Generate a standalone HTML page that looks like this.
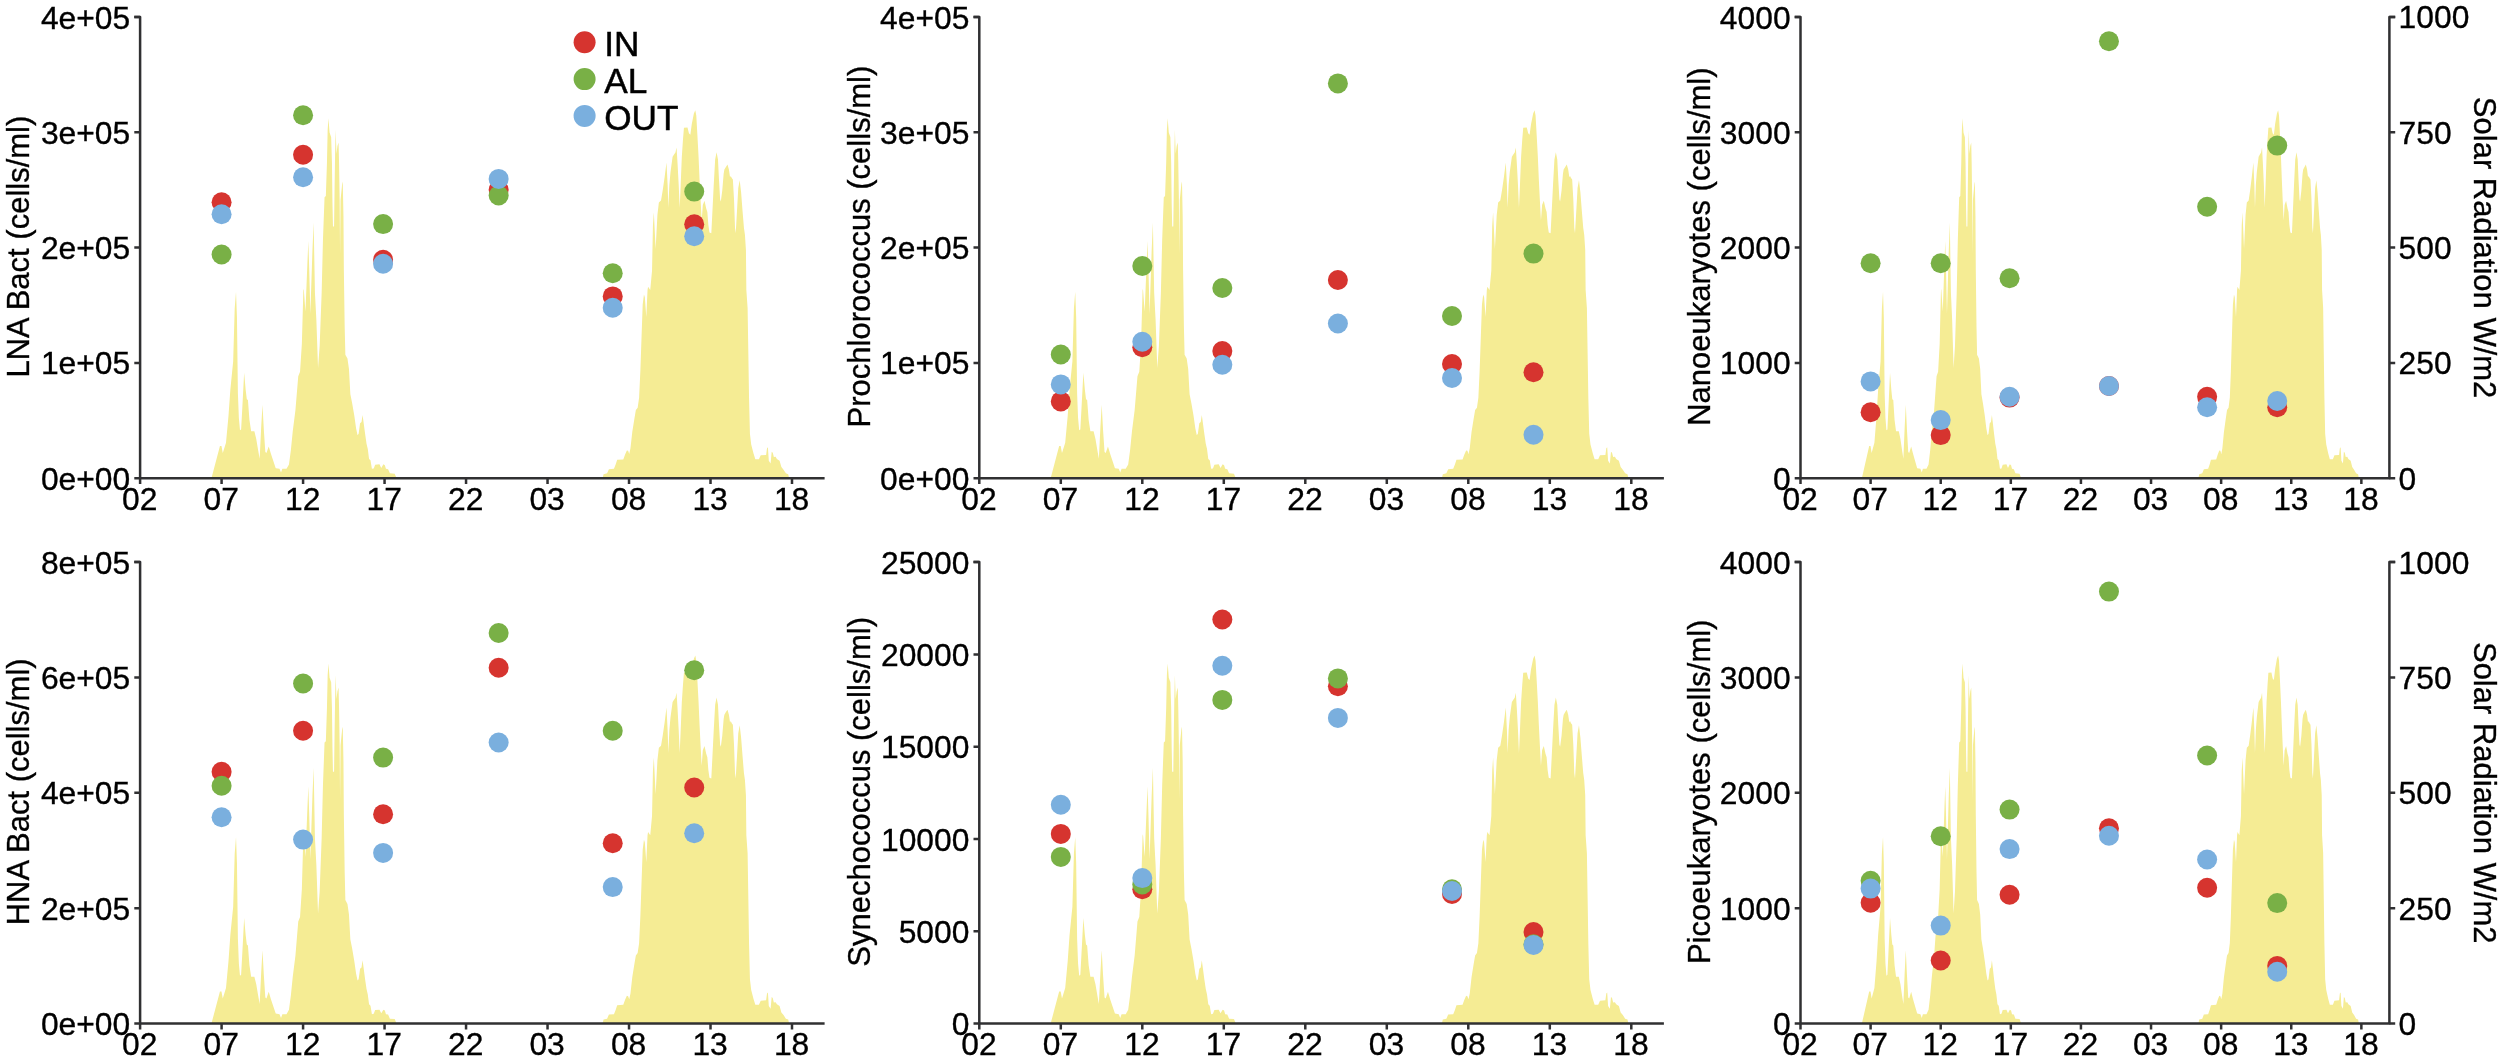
<!DOCTYPE html>
<html lang="en"><head><meta charset="utf-8"><title>Diel cycle of microbial abundances and solar radiation</title>
<style>html,body{margin:0;padding:0;background:#fff}body{width:2500px;height:1058px;overflow:hidden}svg{display:block;filter:blur(.45px)}text{font-family:"Liberation Sans",sans-serif;fill:#000;stroke:#000;stroke-width:.35px}.tk{font-size:31.8px}.tt{font-size:31px}.lg{font-size:35.2px;stroke-width:.5px}</style></head><body>
<svg width="2500" height="1058" viewBox="0 0 2500 1058">
<rect width="2500" height="1058" fill="#fff"/>
<g>
<polygon fill="#f5ec94" points="211.44,478.2 219.95,446.07 221.46,446.07 222.78,453.06 226,442.66 228.46,416.19 230.35,389.72 233.18,361.36 234.7,308.42 236.02,291.78 236.96,317.87 237.91,393.5 238.86,418.08 239.99,430.37 241.12,429.43 242.26,408.63 244.15,372.7 245.66,389.72 246.8,399.18 247.93,400.12 249.44,419.97 251.15,431.32 254.36,431.32 256.25,438.88 258.14,450.23 259.66,458.73 261.17,427.54 262.49,404.85 263.82,429.43 265.33,452.12 266.46,453.06 268.73,446.44 271,454.01 275.73,468.19 279.51,468.76 281.02,472.54 282.35,468.76 286.51,468.76 288.96,464.41 290.86,450.23 292.75,431.32 295.45,410.09 298.25,376.28 300.05,371.78 301.85,343.97 303.35,290.36 303.75,289.06 305.45,311.56 307.45,262.05 308.35,241.05 309.25,270.05 310.35,314.06 312.45,250.05 313.65,222.54 314.95,293.06 316.35,319.47 318.05,368.08 319.65,346.07 321.65,293.06 322.95,240.05 324.55,197.34 325.85,196.04 326.95,163.03 327.65,130.02 328.46,118.32 329.56,132.53 331.16,137.13 331.96,163.03 332.46,202.64 332.96,226.45 334.06,226.45 334.56,189.44 335.16,149.73 335.66,129.82 336.46,153.73 337.46,146.03 338.56,142.43 339.06,163.03 339.66,200.04 340.06,254.05 340.56,200.04 342.16,184.04 342.76,181.54 343.46,216.04 343.86,270.05 344.66,325.97 345.36,354.77 347.46,358.57 348.96,369.08 350.36,394.25 352.16,403.23 354.32,415.8 356.11,428.38 357.55,435.21 358.63,433.77 360.07,423.35 361.5,422.09 362.58,414.91 363.66,422.99 365.1,433.77 366.53,443.65 367.79,449.04 369.05,458.92 370.49,460.35 371.92,468.8 373.72,468.44 375.16,464.67 379.47,464.31 381.26,467.9 383.42,464.31 384.86,465.2 385.94,468.8 388.09,469.16 389.89,473.29 394.74,473.65 396.53,478.2"/>
<polygon fill="#f5ec94" points="602.63,478.2 603.53,474.19 607.12,473.29 608.92,469.16 613.95,468.8 615.74,464.31 617.18,459.82 623.29,459.46 625.09,454.43 626.88,450.47 628.14,450.83 629.22,453.89 630.47,448.14 632.27,431.97 634.43,418.5 635.86,410.06 637.66,407.72 639.1,397.84 640.36,370.9 641.61,334.97 642.69,304.43 643.95,294.55 644.85,297.24 646.28,317 647.54,290.06 648.08,286.84 650.24,290.07 652.03,270.67 652.93,225.76 653.83,212.29 655.63,249.12 657.42,214.99 658.86,202.41 661.02,200.61 662.81,189.84 664.61,177.26 666.5,162.42 667.64,185.11 668.35,207.8 669.34,185.11 670.48,172.34 672.6,156.74 674.02,154.62 675.44,152.49 676.57,147.53 677.57,163.83 678.7,185.11 679.69,207.8 680.69,185.11 681.82,156.74 682.96,139.73 683.95,127.67 687.5,127.39 688.91,133.34 690.33,134.76 691.75,124.13 693.88,113.49 695.3,110.23 696.29,115.62 697.42,135.47 698.56,156.74 699.55,179.43 700.54,199.29 701.68,220.56 702.81,204.96 704.51,200.71 706.22,208.51 707.35,212.05 708.34,224.81 709.48,232.61 711.32,233.32 712.31,213.47 713.73,185.11 715.15,159.58 716.57,152.21 717.99,159.58 718.98,179.43 720.11,199.29 720.82,201.42 722.24,190.78 723.66,173.76 724.37,169.51 726.07,166.67 727.49,164.54 728.91,169.51 730.04,177.31 730.75,175.89 731.74,178.02 732.88,179.43 734.01,199.29 735.01,227.65 735.72,233.32 736.85,213.47 738.27,187.94 739.69,180.14 741.1,192.2 742.52,210.63 743.94,227.65 744.93,234.74 745.93,250.06 746.35,290.06 747.61,308.02 748.33,352.93 749.04,397.84 749.94,433.77 751.2,444.55 753.54,453.53 755.33,459.28 758.92,459.28 760.72,455.32 766.11,454.97 767.01,448.14 767.91,447.24 768.81,460.71 770.6,463.41 771.68,451.73 772.76,452.63 773.84,457.12 775.63,456.76 776.89,458.92 779.58,460.71 781.38,467 783.54,469.7 785.87,473.29 788.21,474.19 789.11,478.2"/>
<circle cx="221.59" cy="202.3" r="10" fill="#d6342f"/>
<circle cx="221.59" cy="254.5" r="10" fill="#79b046"/>
<circle cx="221.59" cy="214.3" r="10" fill="#7aafde"/>
<circle cx="303.08" cy="154.7" r="10" fill="#d6342f"/>
<circle cx="303.08" cy="115.2" r="10" fill="#79b046"/>
<circle cx="303.08" cy="177.3" r="10" fill="#7aafde"/>
<circle cx="383.1" cy="259.7" r="10" fill="#d6342f"/>
<circle cx="383.1" cy="224.1" r="10" fill="#79b046"/>
<circle cx="383.1" cy="263.8" r="10" fill="#7aafde"/>
<circle cx="498.65" cy="189.8" r="10" fill="#d6342f"/>
<circle cx="498.65" cy="195.5" r="10" fill="#79b046"/>
<circle cx="498.65" cy="178.9" r="10" fill="#7aafde"/>
<circle cx="612.73" cy="296.4" r="10" fill="#d6342f"/>
<circle cx="612.73" cy="273.3" r="10" fill="#79b046"/>
<circle cx="612.73" cy="307.8" r="10" fill="#7aafde"/>
<circle cx="694.22" cy="224.3" r="10" fill="#d6342f"/>
<circle cx="694.22" cy="191.6" r="10" fill="#79b046"/>
<circle cx="694.22" cy="236.3" r="10" fill="#7aafde"/>
<path d="M134.3 17H140.1V478.2H824.6" fill="none" stroke="#303032" stroke-width="2.5" stroke-linejoin="round"/>
<text class="tk" x="130.2" y="489.7" text-anchor="end">0e+00</text>
<text class="tk" x="130.2" y="374.4" text-anchor="end">1e+05</text>
<text class="tk" x="130.2" y="259.1" text-anchor="end">2e+05</text>
<text class="tk" x="130.2" y="143.8" text-anchor="end">3e+05</text>
<text class="tk" x="130.2" y="28.5" text-anchor="end">4e+05</text>
<text class="tk" x="139.7" y="509.7" text-anchor="middle">02</text>
<text class="tk" x="221.19" y="509.7" text-anchor="middle">07</text>
<text class="tk" x="302.68" y="509.7" text-anchor="middle">12</text>
<text class="tk" x="384.16" y="509.7" text-anchor="middle">17</text>
<text class="tk" x="465.65" y="509.7" text-anchor="middle">22</text>
<text class="tk" x="547.14" y="509.7" text-anchor="middle">03</text>
<text class="tk" x="628.63" y="509.7" text-anchor="middle">08</text>
<text class="tk" x="710.12" y="509.7" text-anchor="middle">13</text>
<text class="tk" x="791.6" y="509.7" text-anchor="middle">18</text>
<path d="M140.1 478.2h-5.8M140.1 362.9h-5.8M140.1 247.6h-5.8M140.1 132.3h-5.8M140.1 17h-5.8M140.1 478.2v5.8M221.59 478.2v5.8M303.08 478.2v5.8M384.56 478.2v5.8M466.05 478.2v5.8M547.54 478.2v5.8M629.03 478.2v5.8M710.52 478.2v5.8M792 478.2v5.8" fill="none" stroke="#303032" stroke-width="2.5"/>
<text class="tt" text-anchor="middle" transform="translate(29.1 246.6) rotate(-90)">LNA Bact (cells/ml)</text>
</g>
<g>
<polygon fill="#f5ec94" points="1050.65,478.2 1059.16,446.07 1060.67,446.07 1061.99,453.06 1065.21,442.66 1067.67,416.19 1069.56,389.72 1072.4,361.36 1073.91,308.42 1075.23,291.78 1076.18,317.87 1077.12,393.5 1078.07,418.08 1079.2,430.37 1080.34,429.43 1081.47,408.63 1083.37,372.7 1084.88,389.72 1086.01,399.18 1087.15,400.12 1088.66,419.97 1090.36,431.32 1093.58,431.32 1095.47,438.88 1097.36,450.23 1098.87,458.73 1100.39,427.54 1101.71,404.85 1103.03,429.43 1104.55,452.12 1105.68,453.06 1107.95,446.44 1110.22,454.01 1114.95,468.19 1118.73,468.76 1120.24,472.54 1121.57,468.76 1125.73,468.76 1128.19,464.41 1130.08,450.23 1131.97,431.32 1134.67,410.09 1137.47,376.28 1139.27,371.78 1141.07,343.97 1142.57,290.36 1142.97,289.06 1144.67,311.56 1146.67,262.05 1147.57,241.05 1148.47,270.05 1149.57,314.06 1151.68,250.05 1152.88,222.54 1154.18,293.06 1155.58,319.47 1157.28,368.08 1158.88,346.07 1160.88,293.06 1162.18,240.05 1163.78,197.34 1165.08,196.04 1166.18,163.03 1166.88,130.02 1167.68,118.32 1168.78,132.53 1170.38,137.13 1171.18,163.03 1171.68,202.64 1172.18,226.45 1173.29,226.45 1173.79,189.44 1174.39,149.73 1174.89,129.82 1175.69,153.73 1176.69,146.03 1177.79,142.43 1178.29,163.03 1178.89,200.04 1179.29,254.05 1179.79,200.04 1181.39,184.04 1181.99,181.54 1182.69,216.04 1183.09,270.05 1183.89,325.97 1184.59,354.77 1186.69,358.57 1188.19,369.08 1189.6,394.25 1191.39,403.23 1193.55,415.8 1195.34,428.38 1196.78,435.21 1197.86,433.77 1199.3,423.35 1200.73,422.09 1201.81,414.91 1202.89,422.99 1204.33,433.77 1205.77,443.65 1207.02,449.04 1208.28,458.92 1209.72,460.35 1211.16,468.8 1212.95,468.44 1214.39,464.67 1218.7,464.31 1220.5,467.9 1222.66,464.31 1224.09,465.2 1225.17,468.8 1227.33,469.16 1229.12,473.29 1233.98,473.65 1235.77,478.2"/>
<polygon fill="#f5ec94" points="1441.9,478.2 1442.8,474.19 1446.39,473.29 1448.19,469.16 1453.22,468.8 1455.01,464.31 1456.45,459.82 1462.56,459.46 1464.36,454.43 1466.15,450.47 1467.41,450.83 1468.49,453.89 1469.75,448.14 1471.54,431.97 1473.7,418.5 1475.14,410.06 1476.93,407.72 1478.37,397.84 1479.63,370.9 1480.89,334.97 1481.96,304.43 1483.22,294.55 1484.12,297.24 1485.56,317 1486.82,290.06 1487.35,286.84 1489.51,290.07 1491.31,270.67 1492.21,225.76 1493.1,212.29 1494.9,249.12 1496.7,214.99 1498.14,202.41 1500.29,200.61 1502.09,189.84 1503.89,177.26 1505.78,162.42 1506.92,185.11 1507.63,207.8 1508.62,185.11 1509.75,172.34 1511.88,156.74 1513.3,154.62 1514.72,152.49 1515.85,147.53 1516.85,163.83 1517.98,185.11 1518.97,207.8 1519.97,185.11 1521.1,156.74 1522.24,139.73 1523.23,127.67 1526.78,127.39 1528.19,133.34 1529.61,134.76 1531.03,124.13 1533.16,113.49 1534.58,110.23 1535.57,115.62 1536.7,135.47 1537.84,156.74 1538.83,179.43 1539.82,199.29 1540.96,220.56 1542.09,204.96 1543.8,200.71 1545.5,208.51 1546.63,212.05 1547.63,224.81 1548.76,232.61 1550.61,233.32 1551.6,213.47 1553.02,185.11 1554.43,159.58 1555.85,152.21 1557.27,159.58 1558.26,179.43 1559.4,199.29 1560.11,201.42 1561.53,190.78 1562.95,173.76 1563.65,169.51 1565.36,166.67 1566.78,164.54 1568.19,169.51 1569.33,177.31 1570.04,175.89 1571.03,178.02 1572.17,179.43 1573.3,199.29 1574.29,227.65 1575,233.32 1576.14,213.47 1577.56,187.94 1578.97,180.14 1580.39,192.2 1581.81,210.63 1583.23,227.65 1584.22,234.74 1585.22,250.06 1585.64,290.06 1586.9,308.02 1587.61,352.93 1588.33,397.84 1589.23,433.77 1590.49,444.55 1592.82,453.53 1594.62,459.28 1598.22,459.28 1600.01,455.32 1605.4,454.97 1606.3,448.14 1607.2,447.24 1608.1,460.71 1609.89,463.41 1610.97,451.73 1612.05,452.63 1613.13,457.12 1614.93,456.76 1616.18,458.92 1618.88,460.71 1620.67,467 1622.83,469.7 1625.17,473.29 1627.5,474.19 1628.4,478.2"/>
<circle cx="1060.8" cy="401.4" r="10" fill="#d6342f"/>
<circle cx="1060.8" cy="354.5" r="10" fill="#79b046"/>
<circle cx="1060.8" cy="384.4" r="10" fill="#7aafde"/>
<circle cx="1142.3" cy="347.3" r="10" fill="#d6342f"/>
<circle cx="1142.3" cy="266" r="10" fill="#79b046"/>
<circle cx="1142.3" cy="341.7" r="10" fill="#7aafde"/>
<circle cx="1222.33" cy="351.1" r="10" fill="#d6342f"/>
<circle cx="1222.33" cy="288" r="10" fill="#79b046"/>
<circle cx="1222.33" cy="364.7" r="10" fill="#7aafde"/>
<circle cx="1337.9" cy="280" r="10" fill="#d6342f"/>
<circle cx="1337.9" cy="83.4" r="10" fill="#79b046"/>
<circle cx="1337.9" cy="323.5" r="10" fill="#7aafde"/>
<circle cx="1452" cy="364" r="10" fill="#d6342f"/>
<circle cx="1452" cy="316" r="10" fill="#79b046"/>
<circle cx="1452" cy="378" r="10" fill="#7aafde"/>
<circle cx="1533.5" cy="372.3" r="10" fill="#d6342f"/>
<circle cx="1533.5" cy="253.6" r="10" fill="#79b046"/>
<circle cx="1533.5" cy="434.7" r="10" fill="#7aafde"/>
<path d="M973.5 17H979.3V478.2H1663.9" fill="none" stroke="#303032" stroke-width="2.5" stroke-linejoin="round"/>
<text class="tk" x="969.4" y="489.7" text-anchor="end">0e+00</text>
<text class="tk" x="969.4" y="374.4" text-anchor="end">1e+05</text>
<text class="tk" x="969.4" y="259.1" text-anchor="end">2e+05</text>
<text class="tk" x="969.4" y="143.8" text-anchor="end">3e+05</text>
<text class="tk" x="969.4" y="28.5" text-anchor="end">4e+05</text>
<text class="tk" x="978.9" y="509.7" text-anchor="middle">02</text>
<text class="tk" x="1060.4" y="509.7" text-anchor="middle">07</text>
<text class="tk" x="1141.9" y="509.7" text-anchor="middle">12</text>
<text class="tk" x="1223.4" y="509.7" text-anchor="middle">17</text>
<text class="tk" x="1304.9" y="509.7" text-anchor="middle">22</text>
<text class="tk" x="1386.4" y="509.7" text-anchor="middle">03</text>
<text class="tk" x="1467.9" y="509.7" text-anchor="middle">08</text>
<text class="tk" x="1549.4" y="509.7" text-anchor="middle">13</text>
<text class="tk" x="1630.9" y="509.7" text-anchor="middle">18</text>
<path d="M979.3 478.2h-5.8M979.3 362.9h-5.8M979.3 247.6h-5.8M979.3 132.3h-5.8M979.3 17h-5.8M979.3 478.2v5.8M1060.8 478.2v5.8M1142.3 478.2v5.8M1223.8 478.2v5.8M1305.3 478.2v5.8M1386.8 478.2v5.8M1468.3 478.2v5.8M1549.8 478.2v5.8M1631.3 478.2v5.8" fill="none" stroke="#303032" stroke-width="2.5"/>
<text class="tt" text-anchor="middle" transform="translate(869.5 246.6) rotate(-90)">Prochlorococcus (cells/ml)</text>
</g>
<g>
<polygon fill="#f5ec94" points="1861.87,478.2 1869.19,446.07 1870.5,446.07 1871.63,453.06 1874.4,442.66 1876.52,416.19 1878.14,389.72 1880.58,361.36 1881.88,308.42 1883.02,291.78 1883.84,317.87 1884.65,393.5 1885.46,418.08 1886.44,430.37 1887.41,429.43 1888.39,408.63 1890.02,372.7 1891.32,389.72 1892.3,399.18 1893.27,400.12 1894.57,419.97 1896.04,431.32 1898.8,431.32 1900.43,438.88 1902.06,450.23 1903.36,458.73 1904.66,427.54 1905.8,404.85 1906.94,429.43 1908.24,452.12 1909.21,453.06 1911.17,446.44 1913.12,454.01 1917.19,468.19 1920.44,468.76 1921.74,472.54 1922.88,468.76 1926.46,468.76 1928.57,464.41 1930.2,450.23 1931.83,431.32 1934.15,410.09 1936.56,376.28 1938.11,371.78 1939.66,343.97 1940.95,290.36 1941.29,289.06 1942.76,311.56 1944.48,262.05 1945.25,241.05 1946.03,270.05 1946.97,314.06 1948.78,250.05 1949.81,222.54 1950.93,293.06 1952.14,319.47 1953.6,368.08 1954.98,346.07 1956.7,293.06 1957.82,240.05 1959.19,197.34 1960.31,196.04 1961.26,163.03 1961.86,130.02 1962.55,118.32 1963.5,132.53 1964.87,137.13 1965.56,163.03 1965.99,202.64 1966.42,226.45 1967.37,226.45 1967.8,189.44 1968.31,149.73 1968.74,129.82 1969.43,153.73 1970.29,146.03 1971.24,142.43 1971.67,163.03 1972.19,200.04 1972.53,254.05 1972.96,200.04 1974.34,184.04 1974.86,181.54 1975.46,216.04 1975.8,270.05 1976.49,325.97 1977.09,354.77 1978.9,358.57 1980.19,369.08 1981.4,394.25 1982.94,403.23 1984.8,415.8 1986.34,428.38 1987.58,435.21 1988.51,433.77 1989.74,423.35 1990.98,422.09 1991.91,414.91 1992.84,422.99 1994.07,433.77 1995.31,443.65 1996.39,449.04 1997.47,458.92 1998.71,460.35 1999.95,468.8 2001.49,468.44 2002.73,464.67 2006.44,464.31 2007.98,467.9 2009.84,464.31 2011.07,465.2 2012,468.8 2013.86,469.16 2015.4,473.29 2019.57,473.65 2021.12,478.2"/>
<polygon fill="#f5ec94" points="2198.43,478.2 2199.2,474.19 2202.29,473.29 2203.84,469.16 2208.17,468.8 2209.71,464.31 2210.95,459.82 2216.2,459.46 2217.75,454.43 2219.3,450.47 2220.38,450.83 2221.31,453.89 2222.39,448.14 2223.93,431.97 2225.79,418.5 2227.02,410.06 2228.57,407.72 2229.81,397.84 2230.89,370.9 2231.97,334.97 2232.9,304.43 2233.98,294.55 2234.75,297.24 2235.99,317 2237.07,290.06 2237.53,286.84 2239.39,290.07 2240.93,270.67 2241.71,225.76 2242.48,212.29 2244.03,249.12 2245.57,214.99 2246.81,202.41 2248.66,200.61 2250.21,189.84 2251.75,177.26 2253.39,162.42 2254.36,185.11 2254.97,207.8 2255.83,185.11 2256.8,172.34 2258.63,156.74 2259.85,154.62 2261.07,152.49 2262.05,147.53 2262.9,163.83 2263.88,185.11 2264.73,207.8 2265.59,185.11 2266.56,156.74 2267.54,139.73 2268.39,127.67 2271.44,127.39 2272.66,133.34 2273.88,134.76 2275.1,124.13 2276.93,113.49 2278.15,110.23 2279.01,115.62 2279.98,135.47 2280.96,156.74 2281.82,179.43 2282.67,199.29 2283.65,220.56 2284.62,204.96 2286.09,200.71 2287.55,208.51 2288.53,212.05 2289.38,224.81 2290.36,232.61 2291.94,233.32 2292.8,213.47 2294.02,185.11 2295.24,159.58 2296.46,152.21 2297.68,159.58 2298.53,179.43 2299.51,199.29 2300.12,201.42 2301.34,190.78 2302.56,173.76 2303.17,169.51 2304.63,166.67 2305.85,164.54 2307.07,169.51 2308.05,177.31 2308.66,175.89 2309.51,178.02 2310.49,179.43 2311.47,199.29 2312.32,227.65 2312.93,233.32 2313.91,213.47 2315.13,187.94 2316.35,180.14 2317.57,192.2 2318.79,210.63 2320.01,227.65 2320.86,234.74 2321.71,250.06 2322.08,290.06 2323.16,308.02 2323.78,352.93 2324.4,397.84 2325.17,433.77 2326.25,444.55 2328.26,453.53 2329.81,459.28 2332.9,459.28 2334.44,455.32 2339.08,454.97 2339.85,448.14 2340.63,447.24 2341.4,460.71 2342.94,463.41 2343.87,451.73 2344.8,452.63 2345.73,457.12 2347.27,456.76 2348.35,458.92 2350.67,460.71 2352.22,467 2354.07,469.7 2356.08,473.29 2358.09,474.19 2358.86,478.2"/>
<circle cx="1870.61" cy="412.2" r="10" fill="#d6342f"/>
<circle cx="1870.61" cy="263.3" r="10" fill="#79b046"/>
<circle cx="1870.61" cy="381.4" r="10" fill="#7aafde"/>
<circle cx="1940.71" cy="435.1" r="10" fill="#d6342f"/>
<circle cx="1940.71" cy="263.3" r="10" fill="#79b046"/>
<circle cx="1940.71" cy="420.1" r="10" fill="#7aafde"/>
<circle cx="2009.56" cy="397.6" r="10" fill="#d6342f"/>
<circle cx="2009.56" cy="278.3" r="10" fill="#79b046"/>
<circle cx="2009.56" cy="396.8" r="10" fill="#7aafde"/>
<circle cx="2108.97" cy="386" r="10" fill="#d6342f"/>
<circle cx="2108.97" cy="41.2" r="10" fill="#79b046"/>
<circle cx="2108.97" cy="386" r="10" fill="#7aafde"/>
<circle cx="2207.12" cy="396.8" r="10" fill="#d6342f"/>
<circle cx="2207.12" cy="206.7" r="10" fill="#79b046"/>
<circle cx="2207.12" cy="407.2" r="10" fill="#7aafde"/>
<circle cx="2277.23" cy="407.2" r="10" fill="#d6342f"/>
<circle cx="2277.23" cy="145.6" r="10" fill="#79b046"/>
<circle cx="2277.23" cy="401" r="10" fill="#7aafde"/>
<path d="M1794.7 17H1800.5V478.2H2389.4V17H2395.2" fill="none" stroke="#303032" stroke-width="2.5" stroke-linejoin="round"/>
<text class="tk" x="1790.6" y="489.7" text-anchor="end">0</text>
<text class="tk" x="1790.6" y="374.4" text-anchor="end">1000</text>
<text class="tk" x="1790.6" y="259.1" text-anchor="end">2000</text>
<text class="tk" x="1790.6" y="143.8" text-anchor="end">3000</text>
<text class="tk" x="1790.6" y="28.5" text-anchor="end">4000</text>
<text class="tk" x="1800.1" y="509.7" text-anchor="middle">02</text>
<text class="tk" x="1870.21" y="509.7" text-anchor="middle">07</text>
<text class="tk" x="1940.31" y="509.7" text-anchor="middle">12</text>
<text class="tk" x="2010.42" y="509.7" text-anchor="middle">17</text>
<text class="tk" x="2080.53" y="509.7" text-anchor="middle">22</text>
<text class="tk" x="2150.64" y="509.7" text-anchor="middle">03</text>
<text class="tk" x="2220.74" y="509.7" text-anchor="middle">08</text>
<text class="tk" x="2290.85" y="509.7" text-anchor="middle">13</text>
<text class="tk" x="2360.96" y="509.7" text-anchor="middle">18</text>
<text class="tk" x="2398.6" y="489.6">0</text>
<text class="tk" x="2398.6" y="374.3">250</text>
<text class="tk" x="2398.6" y="259">500</text>
<text class="tk" x="2398.6" y="143.7">750</text>
<text class="tk" x="2398.6" y="28.4">1000</text>
<path d="M1800.5 478.2h-5.8M1800.5 362.9h-5.8M1800.5 247.6h-5.8M1800.5 132.3h-5.8M1800.5 17h-5.8M1800.5 478.2v5.8M1870.61 478.2v5.8M1940.71 478.2v5.8M2010.82 478.2v5.8M2080.93 478.2v5.8M2151.04 478.2v5.8M2221.14 478.2v5.8M2291.25 478.2v5.8M2361.36 478.2v5.8M2389.4 478.2h5.8M2389.4 362.9h5.8M2389.4 247.6h5.8M2389.4 132.3h5.8M2389.4 17h5.8" fill="none" stroke="#303032" stroke-width="2.5"/>
<text class="tt" text-anchor="middle" transform="translate(1709.5 246.6) rotate(-90)">Nanoeukaryotes (cells/ml)</text>
<text class="tt" text-anchor="middle" transform="translate(2474.2 247.6) rotate(90)">Solar Radiation W/m2</text>
</g>
<g>
<polygon fill="#f5ec94" points="211.44,1023.6 219.95,991.45 221.46,991.45 222.78,998.45 226,988.04 228.46,961.55 230.35,935.06 233.18,906.68 234.7,853.71 236.02,837.06 236.96,863.17 237.91,938.85 238.86,963.44 239.99,975.74 241.12,974.8 242.26,953.98 244.15,918.04 245.66,935.06 246.8,944.52 247.93,945.47 249.44,965.34 251.15,976.69 254.36,976.69 256.25,984.26 258.14,995.61 259.66,1004.12 261.17,972.9 262.49,950.2 263.82,974.8 265.33,997.5 266.46,998.45 268.73,991.82 271,999.39 275.73,1013.58 279.51,1014.15 281.02,1017.93 282.35,1014.15 286.51,1014.15 288.96,1009.8 290.86,995.61 292.75,976.69 295.45,955.44 298.25,921.61 300.05,917.11 301.85,889.28 303.35,835.64 303.75,834.34 305.45,856.86 307.45,807.31 308.35,786.29 309.25,815.32 310.35,859.36 312.45,795.3 313.65,767.78 314.95,838.34 316.35,864.76 318.05,913.4 319.65,891.39 321.65,838.34 322.95,785.29 324.55,742.56 325.85,741.26 326.95,708.23 327.65,675.2 328.46,663.49 329.56,677.7 331.16,682.3 331.96,708.23 332.46,747.86 332.96,771.68 334.06,771.68 334.56,734.65 335.16,694.92 335.66,675 336.46,698.92 337.46,691.21 338.56,687.61 339.06,708.23 339.66,745.26 340.06,799.31 340.56,745.26 342.16,729.24 342.76,726.74 343.46,761.27 343.86,815.32 344.66,871.27 345.36,900.09 347.46,903.9 348.96,914.41 350.36,939.59 352.16,948.58 354.32,961.16 356.11,973.75 357.55,980.58 358.63,979.14 360.07,968.71 361.5,967.46 362.58,960.27 363.66,968.35 365.1,979.14 366.53,989.03 367.79,994.42 369.05,1004.31 370.49,1005.74 371.92,1014.19 373.72,1013.83 375.16,1010.06 379.47,1009.7 381.26,1013.29 383.42,1009.7 384.86,1010.6 385.94,1014.19 388.09,1014.55 389.89,1018.69 394.74,1019.04 396.53,1023.6"/>
<polygon fill="#f5ec94" points="602.63,1023.6 603.53,1019.58 607.12,1018.69 608.92,1014.55 613.95,1014.19 615.74,1009.7 617.18,1005.2 623.29,1004.84 625.09,999.81 626.88,995.86 628.14,996.22 629.22,999.27 630.47,993.52 632.27,977.34 634.43,963.86 635.86,955.41 637.66,953.08 639.1,943.19 640.36,916.23 641.61,880.28 642.69,849.72 643.95,839.83 644.85,842.53 646.28,862.3 647.54,835.34 648.08,832.12 650.24,835.35 652.03,815.94 652.93,771 653.83,757.52 655.63,794.37 657.42,760.21 658.86,747.63 661.02,745.83 662.81,735.05 664.61,722.47 666.5,707.61 667.64,730.32 668.35,753.02 669.34,730.32 670.48,717.54 672.6,701.93 674.02,699.81 675.44,697.68 676.57,692.71 677.57,709.03 678.7,730.32 679.69,753.02 680.69,730.32 681.82,701.93 682.96,684.91 683.95,672.84 687.5,672.56 688.91,678.52 690.33,679.94 691.75,669.3 693.88,658.65 695.3,655.39 696.29,660.78 697.42,680.65 698.56,701.93 699.55,724.64 700.54,744.51 701.68,765.79 702.81,750.18 704.51,745.93 706.22,753.73 707.35,757.28 708.34,770.05 709.48,777.85 711.32,778.56 712.31,758.7 713.73,730.32 715.15,704.77 716.57,697.39 717.99,704.77 718.98,724.64 720.11,744.51 720.82,746.64 722.24,735.99 723.66,718.96 724.37,714.71 726.07,711.87 727.49,709.74 728.91,714.71 730.04,722.51 730.75,721.09 731.74,723.22 732.88,724.64 734.01,744.51 735.01,772.89 735.72,778.56 736.85,758.7 738.27,733.15 739.69,725.35 741.1,737.41 742.52,755.86 743.94,772.89 744.93,779.98 745.93,795.31 746.35,835.34 747.61,853.31 748.33,898.25 749.04,943.19 749.94,979.14 751.2,989.92 753.54,998.91 755.33,1004.66 758.92,1004.66 760.72,1000.71 766.11,1000.35 767.01,993.52 767.91,992.62 768.81,1006.1 770.6,1008.8 771.68,997.11 772.76,998.01 773.84,1002.51 775.63,1002.15 776.89,1004.31 779.58,1006.1 781.38,1012.39 783.54,1015.09 785.87,1018.69 788.21,1019.58 789.11,1023.6"/>
<circle cx="221.59" cy="771.8" r="10" fill="#d6342f"/>
<circle cx="221.59" cy="785.7" r="10" fill="#79b046"/>
<circle cx="221.59" cy="817.2" r="10" fill="#7aafde"/>
<circle cx="303.08" cy="730.7" r="10" fill="#d6342f"/>
<circle cx="303.08" cy="683.5" r="10" fill="#79b046"/>
<circle cx="303.08" cy="839.6" r="10" fill="#7aafde"/>
<circle cx="383.1" cy="814.2" r="10" fill="#d6342f"/>
<circle cx="383.1" cy="757.6" r="10" fill="#79b046"/>
<circle cx="383.1" cy="852.9" r="10" fill="#7aafde"/>
<circle cx="498.65" cy="667.8" r="10" fill="#d6342f"/>
<circle cx="498.65" cy="633" r="10" fill="#79b046"/>
<circle cx="498.65" cy="742.5" r="10" fill="#7aafde"/>
<circle cx="612.73" cy="843.2" r="10" fill="#d6342f"/>
<circle cx="612.73" cy="730.7" r="10" fill="#79b046"/>
<circle cx="612.73" cy="887.1" r="10" fill="#7aafde"/>
<circle cx="694.22" cy="787.5" r="10" fill="#d6342f"/>
<circle cx="694.22" cy="670.2" r="10" fill="#79b046"/>
<circle cx="694.22" cy="833.2" r="10" fill="#7aafde"/>
<path d="M134.3 562.1H140.1V1023.6H824.6" fill="none" stroke="#303032" stroke-width="2.5" stroke-linejoin="round"/>
<text class="tk" x="130.2" y="1035.1" text-anchor="end">0e+00</text>
<text class="tk" x="130.2" y="919.73" text-anchor="end">2e+05</text>
<text class="tk" x="130.2" y="804.35" text-anchor="end">4e+05</text>
<text class="tk" x="130.2" y="688.98" text-anchor="end">6e+05</text>
<text class="tk" x="130.2" y="573.6" text-anchor="end">8e+05</text>
<text class="tk" x="139.7" y="1055.1" text-anchor="middle">02</text>
<text class="tk" x="221.19" y="1055.1" text-anchor="middle">07</text>
<text class="tk" x="302.68" y="1055.1" text-anchor="middle">12</text>
<text class="tk" x="384.16" y="1055.1" text-anchor="middle">17</text>
<text class="tk" x="465.65" y="1055.1" text-anchor="middle">22</text>
<text class="tk" x="547.14" y="1055.1" text-anchor="middle">03</text>
<text class="tk" x="628.63" y="1055.1" text-anchor="middle">08</text>
<text class="tk" x="710.12" y="1055.1" text-anchor="middle">13</text>
<text class="tk" x="791.6" y="1055.1" text-anchor="middle">18</text>
<path d="M140.1 1023.6h-5.8M140.1 908.23h-5.8M140.1 792.85h-5.8M140.1 677.48h-5.8M140.1 562.1h-5.8M140.1 1023.6v5.8M221.59 1023.6v5.8M303.08 1023.6v5.8M384.56 1023.6v5.8M466.05 1023.6v5.8M547.54 1023.6v5.8M629.03 1023.6v5.8M710.52 1023.6v5.8M792 1023.6v5.8" fill="none" stroke="#303032" stroke-width="2.5"/>
<text class="tt" text-anchor="middle" transform="translate(29.1 791.85) rotate(-90)">HNA Bact (cells/ml)</text>
</g>
<g>
<polygon fill="#f5ec94" points="1050.65,1023.6 1059.16,991.45 1060.67,991.45 1061.99,998.45 1065.21,988.04 1067.67,961.55 1069.56,935.06 1072.4,906.68 1073.91,853.71 1075.23,837.06 1076.18,863.17 1077.12,938.85 1078.07,963.44 1079.2,975.74 1080.34,974.8 1081.47,953.98 1083.37,918.04 1084.88,935.06 1086.01,944.52 1087.15,945.47 1088.66,965.34 1090.36,976.69 1093.58,976.69 1095.47,984.26 1097.36,995.61 1098.87,1004.12 1100.39,972.9 1101.71,950.2 1103.03,974.8 1104.55,997.5 1105.68,998.45 1107.95,991.82 1110.22,999.39 1114.95,1013.58 1118.73,1014.15 1120.24,1017.93 1121.57,1014.15 1125.73,1014.15 1128.19,1009.8 1130.08,995.61 1131.97,976.69 1134.67,955.44 1137.47,921.61 1139.27,917.11 1141.07,889.28 1142.57,835.64 1142.97,834.34 1144.67,856.86 1146.67,807.31 1147.57,786.29 1148.47,815.32 1149.57,859.36 1151.68,795.3 1152.88,767.78 1154.18,838.34 1155.58,864.76 1157.28,913.4 1158.88,891.39 1160.88,838.34 1162.18,785.29 1163.78,742.56 1165.08,741.26 1166.18,708.23 1166.88,675.2 1167.68,663.49 1168.78,677.7 1170.38,682.3 1171.18,708.23 1171.68,747.86 1172.18,771.68 1173.29,771.68 1173.79,734.65 1174.39,694.92 1174.89,675 1175.69,698.92 1176.69,691.21 1177.79,687.61 1178.29,708.23 1178.89,745.26 1179.29,799.31 1179.79,745.26 1181.39,729.24 1181.99,726.74 1182.69,761.27 1183.09,815.32 1183.89,871.27 1184.59,900.09 1186.69,903.9 1188.19,914.41 1189.6,939.59 1191.39,948.58 1193.55,961.16 1195.34,973.75 1196.78,980.58 1197.86,979.14 1199.3,968.71 1200.73,967.46 1201.81,960.27 1202.89,968.35 1204.33,979.14 1205.77,989.03 1207.02,994.42 1208.28,1004.31 1209.72,1005.74 1211.16,1014.19 1212.95,1013.83 1214.39,1010.06 1218.7,1009.7 1220.5,1013.29 1222.66,1009.7 1224.09,1010.6 1225.17,1014.19 1227.33,1014.55 1229.12,1018.69 1233.98,1019.04 1235.77,1023.6"/>
<polygon fill="#f5ec94" points="1441.9,1023.6 1442.8,1019.58 1446.39,1018.69 1448.19,1014.55 1453.22,1014.19 1455.01,1009.7 1456.45,1005.2 1462.56,1004.84 1464.36,999.81 1466.15,995.86 1467.41,996.22 1468.49,999.27 1469.75,993.52 1471.54,977.34 1473.7,963.86 1475.14,955.41 1476.93,953.08 1478.37,943.19 1479.63,916.23 1480.89,880.28 1481.96,849.72 1483.22,839.83 1484.12,842.53 1485.56,862.3 1486.82,835.34 1487.35,832.12 1489.51,835.35 1491.31,815.94 1492.21,771 1493.1,757.52 1494.9,794.37 1496.7,760.21 1498.14,747.63 1500.29,745.83 1502.09,735.05 1503.89,722.47 1505.78,707.61 1506.92,730.32 1507.63,753.02 1508.62,730.32 1509.75,717.54 1511.88,701.93 1513.3,699.81 1514.72,697.68 1515.85,692.71 1516.85,709.03 1517.98,730.32 1518.97,753.02 1519.97,730.32 1521.1,701.93 1522.24,684.91 1523.23,672.84 1526.78,672.56 1528.19,678.52 1529.61,679.94 1531.03,669.3 1533.16,658.65 1534.58,655.39 1535.57,660.78 1536.7,680.65 1537.84,701.93 1538.83,724.64 1539.82,744.51 1540.96,765.79 1542.09,750.18 1543.8,745.93 1545.5,753.73 1546.63,757.28 1547.63,770.05 1548.76,777.85 1550.61,778.56 1551.6,758.7 1553.02,730.32 1554.43,704.77 1555.85,697.39 1557.27,704.77 1558.26,724.64 1559.4,744.51 1560.11,746.64 1561.53,735.99 1562.95,718.96 1563.65,714.71 1565.36,711.87 1566.78,709.74 1568.19,714.71 1569.33,722.51 1570.04,721.09 1571.03,723.22 1572.17,724.64 1573.3,744.51 1574.29,772.89 1575,778.56 1576.14,758.7 1577.56,733.15 1578.97,725.35 1580.39,737.41 1581.81,755.86 1583.23,772.89 1584.22,779.98 1585.22,795.31 1585.64,835.34 1586.9,853.31 1587.61,898.25 1588.33,943.19 1589.23,979.14 1590.49,989.92 1592.82,998.91 1594.62,1004.66 1598.22,1004.66 1600.01,1000.71 1605.4,1000.35 1606.3,993.52 1607.2,992.62 1608.1,1006.1 1609.89,1008.8 1610.97,997.11 1612.05,998.01 1613.13,1002.51 1614.93,1002.15 1616.18,1004.31 1618.88,1006.1 1620.67,1012.39 1622.83,1015.09 1625.17,1018.69 1627.5,1019.58 1628.4,1023.6"/>
<circle cx="1060.8" cy="833.9" r="10" fill="#d6342f"/>
<circle cx="1060.8" cy="856.9" r="10" fill="#79b046"/>
<circle cx="1060.8" cy="804.8" r="10" fill="#7aafde"/>
<circle cx="1142.3" cy="889.2" r="10" fill="#d6342f"/>
<circle cx="1142.3" cy="884.5" r="10" fill="#79b046"/>
<circle cx="1142.3" cy="878.1" r="10" fill="#7aafde"/>
<circle cx="1222.33" cy="619.5" r="10" fill="#d6342f"/>
<circle cx="1222.33" cy="699.9" r="10" fill="#79b046"/>
<circle cx="1222.33" cy="665.8" r="10" fill="#7aafde"/>
<circle cx="1337.9" cy="686.3" r="10" fill="#d6342f"/>
<circle cx="1337.9" cy="678.4" r="10" fill="#79b046"/>
<circle cx="1337.9" cy="717.9" r="10" fill="#7aafde"/>
<circle cx="1452" cy="893.9" r="10" fill="#d6342f"/>
<circle cx="1452" cy="889.2" r="10" fill="#79b046"/>
<circle cx="1452" cy="891" r="10" fill="#7aafde"/>
<circle cx="1533.5" cy="932" r="10" fill="#d6342f"/>
<circle cx="1533.5" cy="944.2" r="10" fill="#79b046"/>
<circle cx="1533.5" cy="944.9" r="10" fill="#7aafde"/>
<path d="M973.5 562.1H979.3V1023.6H1663.9" fill="none" stroke="#303032" stroke-width="2.5" stroke-linejoin="round"/>
<text class="tk" x="969.4" y="1035.1" text-anchor="end">0</text>
<text class="tk" x="969.4" y="942.8" text-anchor="end">5000</text>
<text class="tk" x="969.4" y="850.5" text-anchor="end">10000</text>
<text class="tk" x="969.4" y="758.2" text-anchor="end">15000</text>
<text class="tk" x="969.4" y="665.9" text-anchor="end">20000</text>
<text class="tk" x="969.4" y="573.6" text-anchor="end">25000</text>
<text class="tk" x="978.9" y="1055.1" text-anchor="middle">02</text>
<text class="tk" x="1060.4" y="1055.1" text-anchor="middle">07</text>
<text class="tk" x="1141.9" y="1055.1" text-anchor="middle">12</text>
<text class="tk" x="1223.4" y="1055.1" text-anchor="middle">17</text>
<text class="tk" x="1304.9" y="1055.1" text-anchor="middle">22</text>
<text class="tk" x="1386.4" y="1055.1" text-anchor="middle">03</text>
<text class="tk" x="1467.9" y="1055.1" text-anchor="middle">08</text>
<text class="tk" x="1549.4" y="1055.1" text-anchor="middle">13</text>
<text class="tk" x="1630.9" y="1055.1" text-anchor="middle">18</text>
<path d="M979.3 1023.6h-5.8M979.3 931.3h-5.8M979.3 839h-5.8M979.3 746.7h-5.8M979.3 654.4h-5.8M979.3 562.1h-5.8M979.3 1023.6v5.8M1060.8 1023.6v5.8M1142.3 1023.6v5.8M1223.8 1023.6v5.8M1305.3 1023.6v5.8M1386.8 1023.6v5.8M1468.3 1023.6v5.8M1549.8 1023.6v5.8M1631.3 1023.6v5.8" fill="none" stroke="#303032" stroke-width="2.5"/>
<text class="tt" text-anchor="middle" transform="translate(869.5 791.85) rotate(-90)">Synechococcus (cells/ml)</text>
</g>
<g>
<polygon fill="#f5ec94" points="1861.87,1023.6 1869.19,991.45 1870.5,991.45 1871.63,998.45 1874.4,988.04 1876.52,961.55 1878.14,935.06 1880.58,906.68 1881.88,853.71 1883.02,837.06 1883.84,863.17 1884.65,938.85 1885.46,963.44 1886.44,975.74 1887.41,974.8 1888.39,953.98 1890.02,918.04 1891.32,935.06 1892.3,944.52 1893.27,945.47 1894.57,965.34 1896.04,976.69 1898.8,976.69 1900.43,984.26 1902.06,995.61 1903.36,1004.12 1904.66,972.9 1905.8,950.2 1906.94,974.8 1908.24,997.5 1909.21,998.45 1911.17,991.82 1913.12,999.39 1917.19,1013.58 1920.44,1014.15 1921.74,1017.93 1922.88,1014.15 1926.46,1014.15 1928.57,1009.8 1930.2,995.61 1931.83,976.69 1934.15,955.44 1936.56,921.61 1938.11,917.11 1939.66,889.28 1940.95,835.64 1941.29,834.34 1942.76,856.86 1944.48,807.31 1945.25,786.29 1946.03,815.32 1946.97,859.36 1948.78,795.3 1949.81,767.78 1950.93,838.34 1952.14,864.76 1953.6,913.4 1954.98,891.39 1956.7,838.34 1957.82,785.29 1959.19,742.56 1960.31,741.26 1961.26,708.23 1961.86,675.2 1962.55,663.49 1963.5,677.7 1964.87,682.3 1965.56,708.23 1965.99,747.86 1966.42,771.68 1967.37,771.68 1967.8,734.65 1968.31,694.92 1968.74,675 1969.43,698.92 1970.29,691.21 1971.24,687.61 1971.67,708.23 1972.19,745.26 1972.53,799.31 1972.96,745.26 1974.34,729.24 1974.86,726.74 1975.46,761.27 1975.8,815.32 1976.49,871.27 1977.09,900.09 1978.9,903.9 1980.19,914.41 1981.4,939.59 1982.94,948.58 1984.8,961.16 1986.34,973.75 1987.58,980.58 1988.51,979.14 1989.74,968.71 1990.98,967.46 1991.91,960.27 1992.84,968.35 1994.07,979.14 1995.31,989.03 1996.39,994.42 1997.47,1004.31 1998.71,1005.74 1999.95,1014.19 2001.49,1013.83 2002.73,1010.06 2006.44,1009.7 2007.98,1013.29 2009.84,1009.7 2011.07,1010.6 2012,1014.19 2013.86,1014.55 2015.4,1018.69 2019.57,1019.04 2021.12,1023.6"/>
<polygon fill="#f5ec94" points="2198.43,1023.6 2199.2,1019.58 2202.29,1018.69 2203.84,1014.55 2208.17,1014.19 2209.71,1009.7 2210.95,1005.2 2216.2,1004.84 2217.75,999.81 2219.3,995.86 2220.38,996.22 2221.31,999.27 2222.39,993.52 2223.93,977.34 2225.79,963.86 2227.02,955.41 2228.57,953.08 2229.81,943.19 2230.89,916.23 2231.97,880.28 2232.9,849.72 2233.98,839.83 2234.75,842.53 2235.99,862.3 2237.07,835.34 2237.53,832.12 2239.39,835.35 2240.93,815.94 2241.71,771 2242.48,757.52 2244.03,794.37 2245.57,760.21 2246.81,747.63 2248.66,745.83 2250.21,735.05 2251.75,722.47 2253.39,707.61 2254.36,730.32 2254.97,753.02 2255.83,730.32 2256.8,717.54 2258.63,701.93 2259.85,699.81 2261.07,697.68 2262.05,692.71 2262.9,709.03 2263.88,730.32 2264.73,753.02 2265.59,730.32 2266.56,701.93 2267.54,684.91 2268.39,672.84 2271.44,672.56 2272.66,678.52 2273.88,679.94 2275.1,669.3 2276.93,658.65 2278.15,655.39 2279.01,660.78 2279.98,680.65 2280.96,701.93 2281.82,724.64 2282.67,744.51 2283.65,765.79 2284.62,750.18 2286.09,745.93 2287.55,753.73 2288.53,757.28 2289.38,770.05 2290.36,777.85 2291.94,778.56 2292.8,758.7 2294.02,730.32 2295.24,704.77 2296.46,697.39 2297.68,704.77 2298.53,724.64 2299.51,744.51 2300.12,746.64 2301.34,735.99 2302.56,718.96 2303.17,714.71 2304.63,711.87 2305.85,709.74 2307.07,714.71 2308.05,722.51 2308.66,721.09 2309.51,723.22 2310.49,724.64 2311.47,744.51 2312.32,772.89 2312.93,778.56 2313.91,758.7 2315.13,733.15 2316.35,725.35 2317.57,737.41 2318.79,755.86 2320.01,772.89 2320.86,779.98 2321.71,795.31 2322.08,835.34 2323.16,853.31 2323.78,898.25 2324.4,943.19 2325.17,979.14 2326.25,989.92 2328.26,998.91 2329.81,1004.66 2332.9,1004.66 2334.44,1000.71 2339.08,1000.35 2339.85,993.52 2340.63,992.62 2341.4,1006.1 2342.94,1008.8 2343.87,997.11 2344.8,998.01 2345.73,1002.51 2347.27,1002.15 2348.35,1004.31 2350.67,1006.1 2352.22,1012.39 2354.07,1015.09 2356.08,1018.69 2358.09,1019.58 2358.86,1023.6"/>
<circle cx="1870.61" cy="902.7" r="10" fill="#d6342f"/>
<circle cx="1870.61" cy="880.7" r="10" fill="#79b046"/>
<circle cx="1870.61" cy="888.6" r="10" fill="#7aafde"/>
<circle cx="1940.71" cy="960.5" r="10" fill="#d6342f"/>
<circle cx="1940.71" cy="836.2" r="10" fill="#79b046"/>
<circle cx="1940.71" cy="925.6" r="10" fill="#7aafde"/>
<circle cx="2009.56" cy="894.8" r="10" fill="#d6342f"/>
<circle cx="2009.56" cy="809.6" r="10" fill="#79b046"/>
<circle cx="2009.56" cy="849.1" r="10" fill="#7aafde"/>
<circle cx="2108.97" cy="828.3" r="10" fill="#d6342f"/>
<circle cx="2108.97" cy="591.6" r="10" fill="#79b046"/>
<circle cx="2108.97" cy="835.8" r="10" fill="#7aafde"/>
<circle cx="2207.12" cy="887.7" r="10" fill="#d6342f"/>
<circle cx="2207.12" cy="755.5" r="10" fill="#79b046"/>
<circle cx="2207.12" cy="859.5" r="10" fill="#7aafde"/>
<circle cx="2277.23" cy="965.9" r="10" fill="#d6342f"/>
<circle cx="2277.23" cy="903.1" r="10" fill="#79b046"/>
<circle cx="2277.23" cy="971.7" r="10" fill="#7aafde"/>
<path d="M1794.7 562.1H1800.5V1023.6H2389.4V562.1H2395.2" fill="none" stroke="#303032" stroke-width="2.5" stroke-linejoin="round"/>
<text class="tk" x="1790.6" y="1035.1" text-anchor="end">0</text>
<text class="tk" x="1790.6" y="919.73" text-anchor="end">1000</text>
<text class="tk" x="1790.6" y="804.35" text-anchor="end">2000</text>
<text class="tk" x="1790.6" y="688.98" text-anchor="end">3000</text>
<text class="tk" x="1790.6" y="573.6" text-anchor="end">4000</text>
<text class="tk" x="1800.1" y="1055.1" text-anchor="middle">02</text>
<text class="tk" x="1870.21" y="1055.1" text-anchor="middle">07</text>
<text class="tk" x="1940.31" y="1055.1" text-anchor="middle">12</text>
<text class="tk" x="2010.42" y="1055.1" text-anchor="middle">17</text>
<text class="tk" x="2080.53" y="1055.1" text-anchor="middle">22</text>
<text class="tk" x="2150.64" y="1055.1" text-anchor="middle">03</text>
<text class="tk" x="2220.74" y="1055.1" text-anchor="middle">08</text>
<text class="tk" x="2290.85" y="1055.1" text-anchor="middle">13</text>
<text class="tk" x="2360.96" y="1055.1" text-anchor="middle">18</text>
<text class="tk" x="2398.6" y="1035">0</text>
<text class="tk" x="2398.6" y="919.62">250</text>
<text class="tk" x="2398.6" y="804.25">500</text>
<text class="tk" x="2398.6" y="688.88">750</text>
<text class="tk" x="2398.6" y="573.5">1000</text>
<path d="M1800.5 1023.6h-5.8M1800.5 908.23h-5.8M1800.5 792.85h-5.8M1800.5 677.48h-5.8M1800.5 562.1h-5.8M1800.5 1023.6v5.8M1870.61 1023.6v5.8M1940.71 1023.6v5.8M2010.82 1023.6v5.8M2080.93 1023.6v5.8M2151.04 1023.6v5.8M2221.14 1023.6v5.8M2291.25 1023.6v5.8M2361.36 1023.6v5.8M2389.4 1023.6h5.8M2389.4 908.23h5.8M2389.4 792.85h5.8M2389.4 677.48h5.8M2389.4 562.1h5.8" fill="none" stroke="#303032" stroke-width="2.5"/>
<text class="tt" text-anchor="middle" transform="translate(1709.5 791.85) rotate(-90)">Picoeukaryotes (cells/ml)</text>
<text class="tt" text-anchor="middle" transform="translate(2474.2 792.7) rotate(90)">Solar Radiation W/m2</text>
</g>
<circle cx="584.6" cy="42.2" r="11" fill="#d6342f"/>
<text class="lg" x="604.2" y="55.8">IN</text>
<circle cx="584.6" cy="79.1" r="11" fill="#79b046"/>
<text class="lg" x="604.2" y="92.7">AL</text>
<circle cx="584.6" cy="115.9" r="11" fill="#7aafde"/>
<text class="lg" x="604.2" y="129.5">OUT</text>
</svg></body></html>
